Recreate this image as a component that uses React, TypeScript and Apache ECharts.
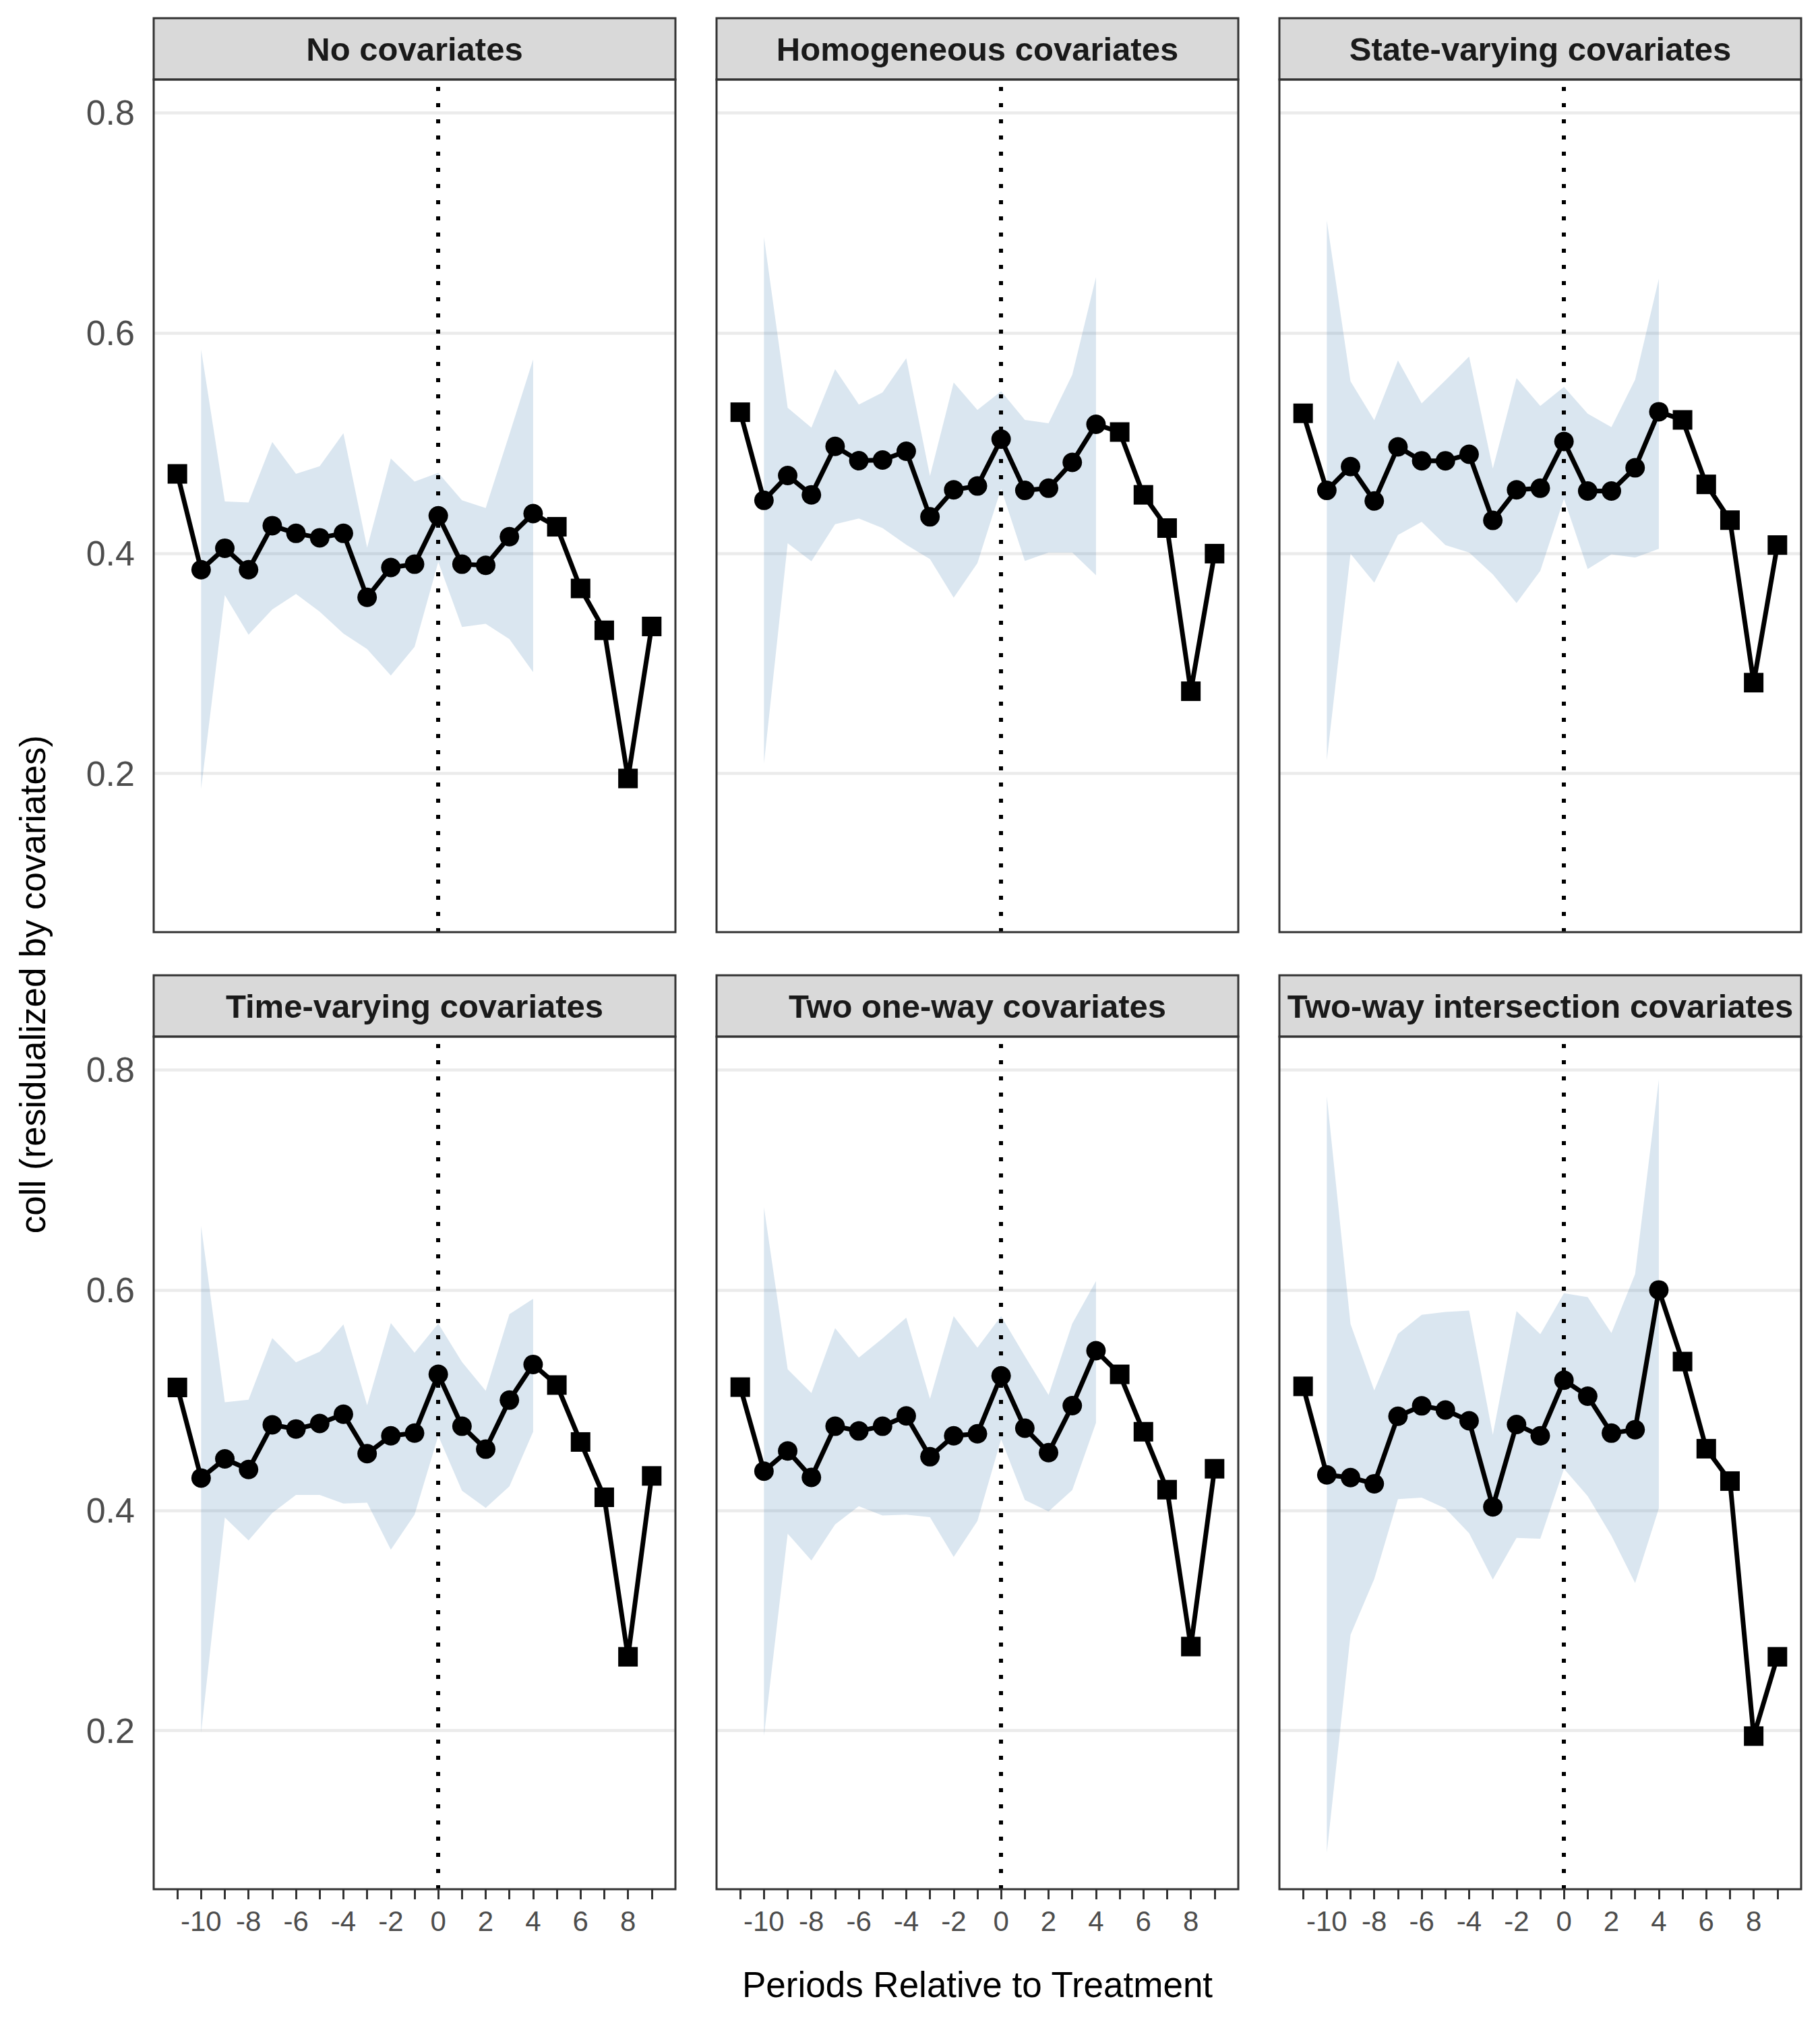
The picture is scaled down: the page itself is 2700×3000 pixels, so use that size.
import React, { useEffect, useRef } from "react";
import * as echarts from "echarts";

const panelTitles = [
  "No covariates",
  "Homogeneous covariates",
  "State-varying covariates",
  "Time-varying covariates",
  "Two one-way covariates",
  "Two-way intersection covariates",
];

const periods = [-11, -10, -9, -8, -7, -6, -5, -4, -3, -2, -1, 0, 1, 2, 3, 4, 5, 6, 7, 8, 9];
const bandPeriods = [-10, -9, -8, -7, -6, -5, -4, -3, -2, -1, 0, 1, 2, 3, 4];

const estNone = [0.472, 0.385, 0.4045, 0.385, 0.425, 0.418, 0.414, 0.418, 0.36, 0.387, 0.39, 0.434, 0.39, 0.389, 0.415, 0.436, 0.424, 0.368, 0.33, 0.1955, 0.3335];
const upperNone = [0.585, 0.447, 0.446, 0.501, 0.472, 0.479, 0.509, 0.405, 0.486, 0.465, 0.473, 0.448, 0.441, 0.508, 0.576];
const lowerNone = [0.186, 0.362, 0.326, 0.349, 0.363, 0.347, 0.327, 0.313, 0.289, 0.315, 0.392, 0.333, 0.336, 0.322, 0.292];

const estHomog = [0.528, 0.448, 0.4705, 0.453, 0.497, 0.484, 0.4846, 0.4926, 0.433, 0.4575, 0.461, 0.5035, 0.457, 0.459, 0.4825, 0.517, 0.51, 0.453, 0.4228, 0.2747, 0.3996];
const upperHomog = [0.687, 0.532, 0.514, 0.567, 0.535, 0.546, 0.577, 0.47, 0.555, 0.53, 0.547, 0.521, 0.518, 0.562, 0.6505];
const lowerHomog = [0.209, 0.409, 0.3926, 0.4263, 0.4316, 0.4228, 0.4077, 0.3947, 0.3596, 0.391, 0.4586, 0.393, 0.4007, 0.4007, 0.38];

const estState = [0.527, 0.457, 0.4786, 0.4474, 0.4965, 0.4839, 0.4839, 0.4898, 0.4298, 0.4575, 0.459, 0.5014, 0.4565, 0.4565, 0.4775, 0.5284, 0.521, 0.4625, 0.43, 0.2825, 0.4074];
const upperState = [0.702, 0.556, 0.5207, 0.575, 0.536, 0.557, 0.5786, 0.4768, 0.559, 0.5337, 0.551, 0.5267, 0.5144, 0.5575, 0.649];
const lowerState = [0.212, 0.3996, 0.3733, 0.4165, 0.4284, 0.4074, 0.4007, 0.3807, 0.3547, 0.3839, 0.4495, 0.3856, 0.399, 0.396, 0.404];

const estTime = [0.5115, 0.4293, 0.4467, 0.437, 0.4776, 0.4738, 0.4788, 0.4872, 0.4514, 0.4676, 0.4701, 0.5234, 0.4763, 0.4555, 0.5, 0.5324, 0.5137, 0.462, 0.4118, 0.267, 0.4312];
const upperTime = [0.658, 0.498, 0.5003, 0.5564, 0.5343, 0.544, 0.5688, 0.4953, 0.57, 0.543, 0.5695, 0.5346, 0.5084, 0.578, 0.592];
const lowerTime = [0.198, 0.3935, 0.3726, 0.3975, 0.414, 0.414, 0.4062, 0.4069, 0.3642, 0.396, 0.4676, 0.4178, 0.4022, 0.4218, 0.4713];

const estTwoOne = [0.5118, 0.4355, 0.4539, 0.4299, 0.4763, 0.472, 0.4763, 0.4857, 0.4486, 0.4676, 0.4695, 0.5221, 0.4745, 0.4523, 0.495, 0.5449, 0.5234, 0.4713, 0.4187, 0.2763, 0.4377];
const upperTwoOne = [0.675, 0.528, 0.5065, 0.5654, 0.5386, 0.556, 0.5748, 0.5012, 0.5763, 0.5477, 0.5763, 0.54, 0.5047, 0.5695, 0.608];
const lowerTwoOne = [0.195, 0.3788, 0.3545, 0.3872, 0.4037, 0.3953, 0.396, 0.3938, 0.3576, 0.3903, 0.4645, 0.4093, 0.399, 0.4184, 0.4794];

const estTwoWay = [0.5125, 0.4321, 0.4297, 0.4241, 0.4854, 0.4948, 0.491, 0.4812, 0.4031, 0.4779, 0.4676, 0.5181, 0.5036, 0.47, 0.4732, 0.6, 0.535, 0.4559, 0.4265, 0.195, 0.267];
const upperTwoWay = [0.776, 0.569, 0.5088, 0.5602, 0.5775, 0.58, 0.5813, 0.4686, 0.5808, 0.5598, 0.597, 0.5935, 0.561, 0.6145, 0.791];
const lowerTwoWay = [0.089, 0.287, 0.3376, 0.4101, 0.4115, 0.4017, 0.3792, 0.3371, 0.375, 0.3741, 0.4377, 0.4129, 0.3769, 0.3339, 0.4017];

const xTickValues = [-11, -10, -9, -8, -7, -6, -5, -4, -3, -2, -1, 0, 1, 2, 3, 4, 5, 6, 7, 8, 9];
const xLabelValues = [-10, -8, -6, -4, -2, 0, 2, 4, 6, 8];
const yTickValues = [0.2, 0.4, 0.6, 0.8];

const xTitle = "Periods Relative to Treatment";
const yTitle = "coll (residualized by covariates)";

const panelEst = [estNone, estHomog, estState, estTime, estTwoOne, estTwoWay];
const panelUpper = [upperNone, upperHomog, upperState, upperTime, upperTwoOne, upperTwoWay];
const panelLower = [lowerNone, lowerHomog, lowerState, lowerTime, lowerTwoOne, lowerTwoWay];

const FONT = "Liberation Sans";
const colLeft = [228, 1063, 1898];
const rowTop = [118, 1538];
const panelW = 774;
const panelH = 1265;
const stripH = 91;
const X_MIN = -12;
const X_MAX = 10;
const Y_MIN = 0.056;
const Y_MAX = 0.83;

function buildOption() {
  const grids: any[] = [];
  const xAxes: any[] = [];
  const yAxes: any[] = [];
  const series: any[] = [];
  const graphics: any[] = [];

  panelTitles.forEach((title, i) => {
    const col = i % 3;
    const row = Math.floor(i / 3);
    const left = colLeft[col];
    const top = rowTop[row];
    const isBottom = row === 1;
    const isLeft = col === 0;

    grids.push({ left, top, width: panelW, height: panelH, containLabel: false, outerBoundsMode: "none", show: false });

    xAxes.push({
      type: "value",
      gridIndex: i,
      min: X_MIN,
      max: X_MAX,
      axisLine: { show: false },
      splitLine: { show: false },
      axisTick: {
        show: isBottom,
        customValues: xTickValues,
        length: 15,
        lineStyle: { color: "#333333", width: 3 },
      },
      axisLabel: {
        show: isBottom,
        customValues: xLabelValues,
        fontSize: 42,
        fontFamily: FONT,
        color: "#4D4D4D",
        margin: 26,
      },
    });

    yAxes.push({
      type: "value",
      gridIndex: i,
      min: Y_MIN,
      max: Y_MAX,
      axisLine: { show: false },
      splitLine: { show: false },
      axisTick: {
        show: isLeft,
        customValues: yTickValues,
        length: 15,
        lineStyle: { color: "#333333", width: 3 },
      },
      axisLabel: {
        show: isLeft,
        customValues: yTickValues,
        fontSize: 52,
        fontFamily: FONT,
        color: "#4D4D4D",
        margin: 28,
        formatter: (v: number) => v.toFixed(1),
      },
    });

    // gridlines
    series.push({
      type: "line",
      xAxisIndex: i,
      yAxisIndex: i,
      data: [],
      silent: true,
      markLine: {
        silent: true,
        z: 1,
        symbol: ["none", "none"],
        label: { show: false },
        emphasis: { disabled: true },
        lineStyle: { color: "#EBEBEB", width: 4.5, type: "solid" },
        data: yTickValues.map((v) => ({ yAxis: v })),
      },
    });

    const upper = panelUpper[i];
    const lower = panelLower[i];
    // confidence band
    series.push({
      type: "custom",
      xAxisIndex: i,
      yAxisIndex: i,
      z: 2,
      silent: true,
      data: bandPeriods.map((x, k) => [x, lower[k], upper[k]]),
      encode: { x: 0, y: [1, 2] },
      renderItem: (params: any, api: any) => {
        if (params.dataIndex !== 0) return null;
        const top = bandPeriods.map((x, k) => api.coord([x, upper[k]]));
        const bottom = bandPeriods.map((x, k) => api.coord([x, lower[k]])).reverse();
        return {
          type: "polygon",
          shape: { points: top.concat(bottom) },
          style: { fill: "rgba(70,130,180,0.2)" },
          silent: true,
        };
      },
    });

    // dotted treatment line
    series.push({
      type: "line",
      xAxisIndex: i,
      yAxisIndex: i,
      data: [],
      silent: true,
      markLine: {
        silent: true,
        z: 3,
        symbol: ["none", "none"],
        label: { show: false },
        emphasis: { disabled: true },
        lineStyle: { color: "#000000", width: 6, type: [6, 18] },
        data: [{ xAxis: 0 }],
      },
    });

    const est = panelEst[i];
    series.push({
      type: "line",
      xAxisIndex: i,
      yAxisIndex: i,
      z: 4,
      silent: true,
      showAllSymbol: true,
      symbolSize: 29,
      lineStyle: { color: "#000000", width: 7 },
      itemStyle: { color: "#000000", borderWidth: 0 },
      emphasis: { disabled: true },
      data: periods.map((x, k) => ({
        value: [x, est[k]],
        symbol: bandPeriods.indexOf(x) >= 0 ? "circle" : "rect",
      })),
    });

    // strip
    graphics.push({
      type: "rect",
      z: 50,
      silent: true,
      shape: { x: left, y: top - stripH, width: panelW, height: stripH },
      style: { fill: "#D9D9D9", stroke: "#333333", lineWidth: 3 },
    });
    graphics.push({
      type: "text",
      z: 51,
      silent: true,
      x: left + panelW / 2,
      y: top - stripH / 2,
      style: {
        text: title,
        fontSize: 49,
        fontWeight: "bold",
        fontFamily: FONT,
        fill: "#1A1A1A",
        align: "center",
        verticalAlign: "middle",
        textAlign: "center",
        textVerticalAlign: "middle",
      },
    });
    // panel border
    graphics.push({
      type: "rect",
      z: 100,
      silent: true,
      shape: { x: left, y: top, width: panelW, height: panelH },
      style: { fill: "none", stroke: "#333333", lineWidth: 3 },
    });
  });

  graphics.push({
    type: "text",
    z: 60,
    silent: true,
    x: (colLeft[0] + colLeft[2] + panelW) / 2,
    y: 2944,
    style: {
      text: xTitle,
      fontSize: 53,
      fontFamily: FONT,
      fill: "#000000",
      align: "center",
      verticalAlign: "middle",
      textAlign: "center",
      textVerticalAlign: "middle",
    },
  });
  graphics.push({
    type: "text",
    z: 60,
    silent: true,
    x: 48,
    y: (rowTop[0] + rowTop[1] + panelH) / 2,
    rotation: Math.PI / 2,
    style: {
      text: yTitle,
      fontSize: 53,
      fontFamily: FONT,
      fill: "#000000",
      align: "center",
      verticalAlign: "middle",
      textAlign: "center",
      textVerticalAlign: "middle",
    },
  });

  return {
    animation: false,
    backgroundColor: "#FFFFFF",
    textStyle: { fontFamily: FONT },
    grid: grids,
    xAxis: xAxes,
    yAxis: yAxes,
    series,
    graphic: { elements: graphics },
  };
}

export default function App() {
  const ref = useRef<HTMLDivElement>(null);
  useEffect(() => {
    document.body.style.margin = "0";
    const chart = echarts.init(ref.current as HTMLDivElement, null, { renderer: "svg" });
    chart.setOption(buildOption() as any);
    return () => {
      chart.dispose();
    };
  }, []);
  return <div ref={ref} style={{ width: 2700, height: 3000 }} />;
}
